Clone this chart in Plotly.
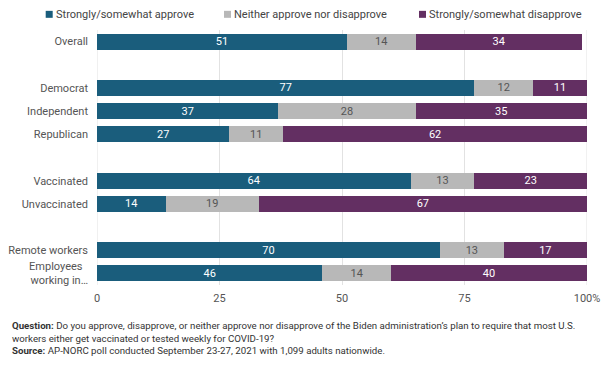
import plotly.graph_objects as go

categories = ["Overall", "Democrat", "Independent", "Republican", "Vaccinated",
              "Unvaccinated", "Remote workers", "Employees\u00a0\u00a0<br>working in…"]
positions = [0, 2, 3, 4, 6, 7, 9, 10]
approve = [51, 77, 37, 27, 64, 14, 70, 46]
neither = [14, 12, 28, 11, 13, 19, 13, 14]
disapprove = [34, 11, 35, 62, 23, 67, 17, 40]
series_names = ["Strongly/somewhat approve", "Neither approve nor disapprove",
                "Strongly/somewhat disapprove"]
colors = ["#1a5d7c", "#b8b8b8", "#632f62"]
label_colors = ["#ffffff", "#555555", "#ffffff"]
x_ticks = [0, 25, 50, 75, 100]
x_ticklabels = ["0", "25", "50", "75", "100%"]

W, H = 612, 374
L, R, T, B = 97.3, 587.3, 29.7, 285.3
GRID = "#e2e2e2"


def px_x(p):
    return (p - L) / (R - L)


def px_y(p):
    return (B - p) / (B - T)


fig = go.Figure()
for name, vals, col, lc in zip(series_names, [approve, neither, disapprove], colors, label_colors):
    fig.add_trace(go.Bar(
        y=positions, x=vals, name=name, orientation="h",
        marker=dict(color=col, line=dict(width=0)),
        text=[str(v) for v in vals], textposition="inside", textangle=0,
        insidetextanchor="middle",
        textfont=dict(family="Roboto", size=11, color=lc),
        hoverinfo="skip", showlegend=False,
    ))

shapes = []
annotations = []

# grid lines at the axis ends (plotly hides edge grid lines)
for v in (x_ticks[0], x_ticks[-1]):
    shapes.append(dict(type="line", xref="x", yref="paper", x0=v, x1=v, y0=0, y1=1,
                       line=dict(color=GRID, width=1), layer="below"))

# custom legend (small squares + labels)
legend_sq = [46, 224.3, 419.3]
for name, col, sx in zip(series_names, colors, legend_sq):
    shapes.append(dict(type="rect", xref="paper", yref="paper",
                       x0=px_x(sx), x1=px_x(sx + 7), y0=px_y(17.5), y1=px_y(10.5),
                       fillcolor=col, line=dict(width=0)))
    annotations.append(dict(xref="paper", yref="paper", x=px_x(sx + 8), y=px_y(14),
                            xanchor="left", yanchor="middle", showarrow=False,
                            text=name, font=dict(size=11, color="#444444")))

annotations.append(dict(
    xref="paper", yref="paper", x=px_x(10), y=px_y(318), xanchor="left", yanchor="top",
    align="left", showarrow=False,
    font=dict(size=9.7, color="#333333"),
    text="<b>Question:</b> Do you approve, disapprove, or neither approve nor disapprove of the Biden administration’s plan to require that most U.S.<br>"
         "workers either get vaccinated or tested weekly for COVID-19?<br>"
         "<b>Source:</b> AP-NORC poll conducted September 23-27, 2021 with 1,099 adults nationwide."))

fig.update_layout(
    barmode="stack", bargap=0.31,
    width=W, height=H,
    margin=dict(l=L, r=W - R, t=T, b=H - B, autoexpand=False),
    plot_bgcolor="white", paper_bgcolor="white",
    font=dict(family="Roboto", size=11, color="#444444"),
    uniformtext=dict(mode="show", minsize=11),
    showlegend=False,
    shapes=shapes,
    annotations=annotations,
    xaxis=dict(range=[0, 100], tickvals=x_ticks, ticktext=x_ticklabels,
               showgrid=True, gridcolor=GRID, gridwidth=1, zeroline=False,
               automargin=False, ticklabelstandoff=5,
               tickfont=dict(size=11, color="#555555"), ticks="", fixedrange=True),
    yaxis=dict(tickvals=positions, ticktext=categories, range=[10.5, -0.5],
               showgrid=False, zeroline=False, ticks="", automargin=False,
               ticklabelstandoff=8,
               tickfont=dict(size=11, color="#555555"), fixedrange=True),
)

fig.write_html("out.html", config={"displayModeBar": False},
               post_script="document.body.style.margin='0';document.body.style.overflow='hidden';")
